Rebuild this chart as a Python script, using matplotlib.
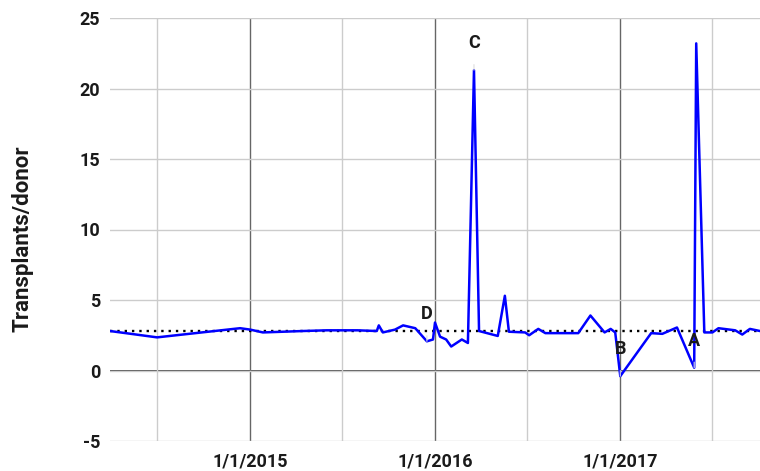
import matplotlib
matplotlib.use("Agg")
import matplotlib.pyplot as plt
import matplotlib.dates as mdates
import numpy as np

# data
dates = [
    "2014-03-30", "2014-07-01", "2014-12-12", "2015-01-01", "2015-01-26",
    "2015-04-15", "2015-06-01", "2015-08-01", "2015-09-08", "2015-09-12",
    "2015-09-20", "2015-10-14", "2015-10-30", "2015-11-23", "2015-12-16",
    "2015-12-28", "2016-01-01", "2016-01-11", "2016-01-23", "2016-02-02",
    "2016-02-23", "2016-03-06", "2016-03-18", "2016-03-28", "2016-05-04",
    "2016-05-18", "2016-05-26", "2016-06-27", "2016-07-05", "2016-07-23",
    "2016-08-06", "2016-10-10", "2016-11-03", "2016-12-01", "2016-12-13",
    "2016-12-22", "2017-01-01", "2017-03-03", "2017-03-25", "2017-04-23",
    "2017-05-27", "2017-05-31", "2017-06-16", "2017-07-02", "2017-07-14",
    "2017-08-16", "2017-08-30", "2017-09-14", "2017-10-04",
]
values = [
    2.8, 2.35, 3.0, 2.9, 2.7,
    2.8, 2.85, 2.85, 2.8, 3.2,
    2.7, 2.9, 3.2, 3.0, 2.07,
    2.2, 3.4, 2.4, 2.2, 1.7,
    2.2, 1.95, 21.3, 2.8, 2.45,
    5.3, 2.75, 2.7, 2.5, 2.95,
    2.65, 2.65, 3.9, 2.7, 2.95,
    2.7, -0.4, 2.65, 2.6, 3.05,
    0.2, 23.2, 2.7, 2.7, 3.0,
    2.85, 2.55, 2.95, 2.8,
]
mean_value = 2.8
annotations = {"D": "2015-12-16", "C": "2016-03-18", "B": "2017-01-01", "A": "2017-05-27"}

x = np.array(dates, dtype="datetime64[D]")
y = np.array(values)

plt.rcParams["font.family"] = ["Roboto", "DejaVu Sans"]
plt.rcParams["axes.unicode_minus"] = False
fig = plt.figure(figsize=(7.6, 4.71), dpi=100)
ax = fig.add_axes([110 / 760, 1 - 441 / 471, 650 / 760, 423 / 471])

ax.plot(x, y, color="#0000ff", lw=1.8, zorder=3)
ax.axhline(mean_value, color="black", lw=1.7, ls=(0, (1, 2.1)), zorder=2)

for label, d in annotations.items():
    xd = np.datetime64(d)
    yd = y[list(x).index(xd)]
    ax.annotate(label, (xd, yd), xytext=(0, 19.5), textcoords="offset points",
                ha="center", va="center", fontsize=13, fontweight="bold",
                color="#1a1a1a", zorder=4,
                arrowprops=dict(arrowstyle="-", color="#dddddd", lw=0.8,
                                shrinkA=7, shrinkB=0))

ax.set_xlim(np.datetime64("2014-03-30"), np.datetime64("2017-10-04"))
ax.set_ylim(-5, 25)
ax.set_yticks([-5, 0, 5, 10, 15, 20, 25])

ax.xaxis.set_major_locator(mdates.YearLocator())
ax.xaxis.set_major_formatter(mdates.DateFormatter("%-m/%-d/%Y"))
ax.xaxis.set_minor_locator(mdates.MonthLocator(bymonth=7))

ax.grid(True, axis="y", color="#cccccc", lw=1)
ax.grid(True, axis="x", which="major", color="#666666", lw=1)
ax.grid(True, axis="x", which="minor", color="#cccccc", lw=1)
ax.axhline(0, color="#333333", lw=1.2, zorder=1)

for s in ax.spines.values():
    s.set_visible(False)
ax.tick_params(axis="both", which="both", length=0)
ax.tick_params(axis="y", pad=7, labelsize=13, labelcolor="#1a1a1a")
ax.tick_params(axis="x", pad=8, labelsize=13, labelcolor="#1a1a1a")
for t in ax.get_xticklabels() + ax.get_yticklabels():
    t.set_fontweight("bold")

fig.text(23 / 760, 1 - 239 / 471, "Transplants/donor", rotation=90,
         ha="center", va="center", fontsize=16, fontweight="bold",
         color="#1a1a1a")

fig.savefig("out.png", dpi=100)
